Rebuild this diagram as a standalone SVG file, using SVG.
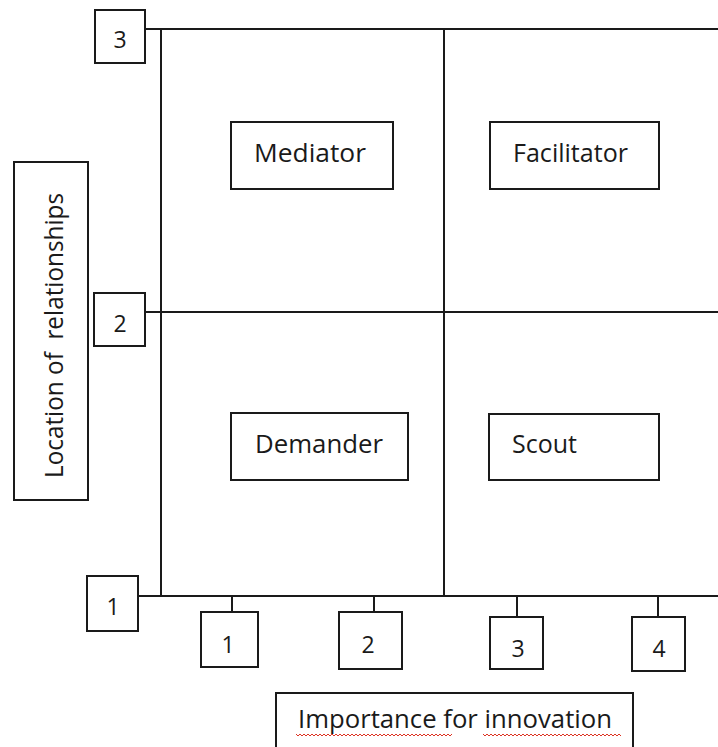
<svg xmlns="http://www.w3.org/2000/svg" width="718" height="747" viewBox="0 0 718 747">
<style>
.box{fill:#fff;stroke:#1a1a1a;stroke-width:2}
.ln{stroke:#1a1a1a;stroke-width:2;fill:none}
.t{font-family:"Open Sans","Liberation Sans",sans-serif;font-size:25px;fill:#1a1a1a}
.n{font-family:"Open Sans","Liberation Sans",sans-serif;font-size:23px;fill:#1a1a1a;text-anchor:middle}
.sq{stroke:#d32;stroke-width:1;fill:none}
</style>
<rect width="718" height="747" fill="#fff"/>
<g id="connectors">
<line class="ln" x1="145" y1="29" x2="718" y2="29"/>
<line class="ln" x1="145" y1="312" x2="718" y2="312"/>
<line class="ln" x1="138" y1="596" x2="718" y2="596"/>
<line class="ln" x1="161" y1="29" x2="161" y2="596"/>
<line class="ln" x1="444" y1="29" x2="444" y2="596"/>
<line class="ln" x1="232" y1="596" x2="232" y2="612"/>
<line class="ln" x1="374" y1="596" x2="374" y2="612"/>
<line class="ln" x1="517" y1="596" x2="517" y2="617"/>
<line class="ln" x1="658" y1="596" x2="658" y2="617"/>
</g>
<g id="y3"><rect class="box" x="95" y="10" width="50" height="53"/><text class="n" x="120" y="48">3</text></g>
<g id="y2"><rect class="box" x="94" y="293" width="51" height="53"/><text class="n" x="120" y="332">2</text></g>
<g id="y1"><rect class="box" x="87" y="576" width="51" height="55"/><text class="n" x="113" y="615">1</text></g>
<g id="x1"><rect class="box" x="201" y="612" width="57" height="55"/><text class="n" x="228" y="653">1</text></g>
<g id="x2"><rect class="box" x="339" y="612" width="63" height="57"/><text class="n" x="368" y="653">2</text></g>
<g id="x3"><rect class="box" x="490" y="617" width="53" height="52"/><text class="n" x="518" y="657">3</text></g>
<g id="x4"><rect class="box" x="632" y="617" width="53" height="54"/><text class="n" x="659" y="657">4</text></g>
<g id="mediator"><rect class="box" x="231" y="122" width="162" height="67"/><text class="t" x="254" y="162" textLength="112" lengthAdjust="spacingAndGlyphs">Mediator</text></g>
<g id="facilitator"><rect class="box" x="490" y="122" width="169" height="67"/><text class="t" x="513" y="162" textLength="115" lengthAdjust="spacingAndGlyphs">Facilitator</text></g>
<g id="demander"><rect class="box" x="231" y="413" width="177" height="67"/><text class="t" x="255" y="453" textLength="128" lengthAdjust="spacingAndGlyphs">Demander</text></g>
<g id="scout"><rect class="box" x="489" y="414" width="170" height="66"/><text class="t" x="512" y="453">Scout</text></g>
<g id="ylabel"><rect class="box" x="14" y="162" width="74" height="338"/><text class="t" transform="translate(63,478) rotate(-90)" xml:space="preserve" textLength="285" lengthAdjust="spacingAndGlyphs">Location of  relationships</text></g>
<g id="xlabel"><rect class="box" x="276" y="693" width="357" height="60"/><text class="t" x="298" y="728" textLength="314" lengthAdjust="spacingAndGlyphs">Importance for innovation</text>
<path class="sq" d="M296,734 l2,2 l2,-2 l2,2 l2,-2 l2,2 l2,-2 l2,2 l2,-2 l2,2 l2,-2 l2,2 l2,-2 l2,2 l2,-2 l2,2 l2,-2 l2,2 l2,-2 l2,2 l2,-2 l2,2 l2,-2 l2,2 l2,-2 l2,2 l2,-2 l2,2 l2,-2 l2,2 l2,-2 l2,2 l2,-2 l2,2 l2,-2 l2,2 l2,-2 l2,2 l2,-2 l2,2 l2,-2 l2,2 l2,-2 l2,2 l2,-2 l2,2 l2,-2 l2,2 l2,-2 l2,2 l2,-2 l2,2 l2,-2 l2,2 l2,-2 l2,2 l2,-2 l2,2 l2,-2 l2,2 l2,-2 l2,2 l2,-2 l2,2 l2,-2 l2,2 l2,-2 l2,2 l2,-2 l2,2 l2,-2 l2,2 l2,-2 l2,2 l2,-2 l2,2 l2,-2 l2,2 l2,-2"/>
<path class="sq" d="M483,734 l2,2 l2,-2 l2,2 l2,-2 l2,2 l2,-2 l2,2 l2,-2 l2,2 l2,-2 l2,2 l2,-2 l2,2 l2,-2 l2,2 l2,-2 l2,2 l2,-2 l2,2 l2,-2 l2,2 l2,-2 l2,2 l2,-2 l2,2 l2,-2 l2,2 l2,-2 l2,2 l2,-2 l2,2 l2,-2 l2,2 l2,-2 l2,2 l2,-2 l2,2 l2,-2 l2,2 l2,-2 l2,2 l2,-2 l2,2 l2,-2 l2,2 l2,-2 l2,2 l2,-2 l2,2 l2,-2 l2,2 l2,-2 l2,2 l2,-2 l2,2 l2,-2 l2,2 l2,-2 l2,2 l2,-2 l2,2 l2,-2 l2,2 l2,-2 l2,2 l2,-2 l2,2 l2,-2 l2,2"/>
</g>
</svg>
